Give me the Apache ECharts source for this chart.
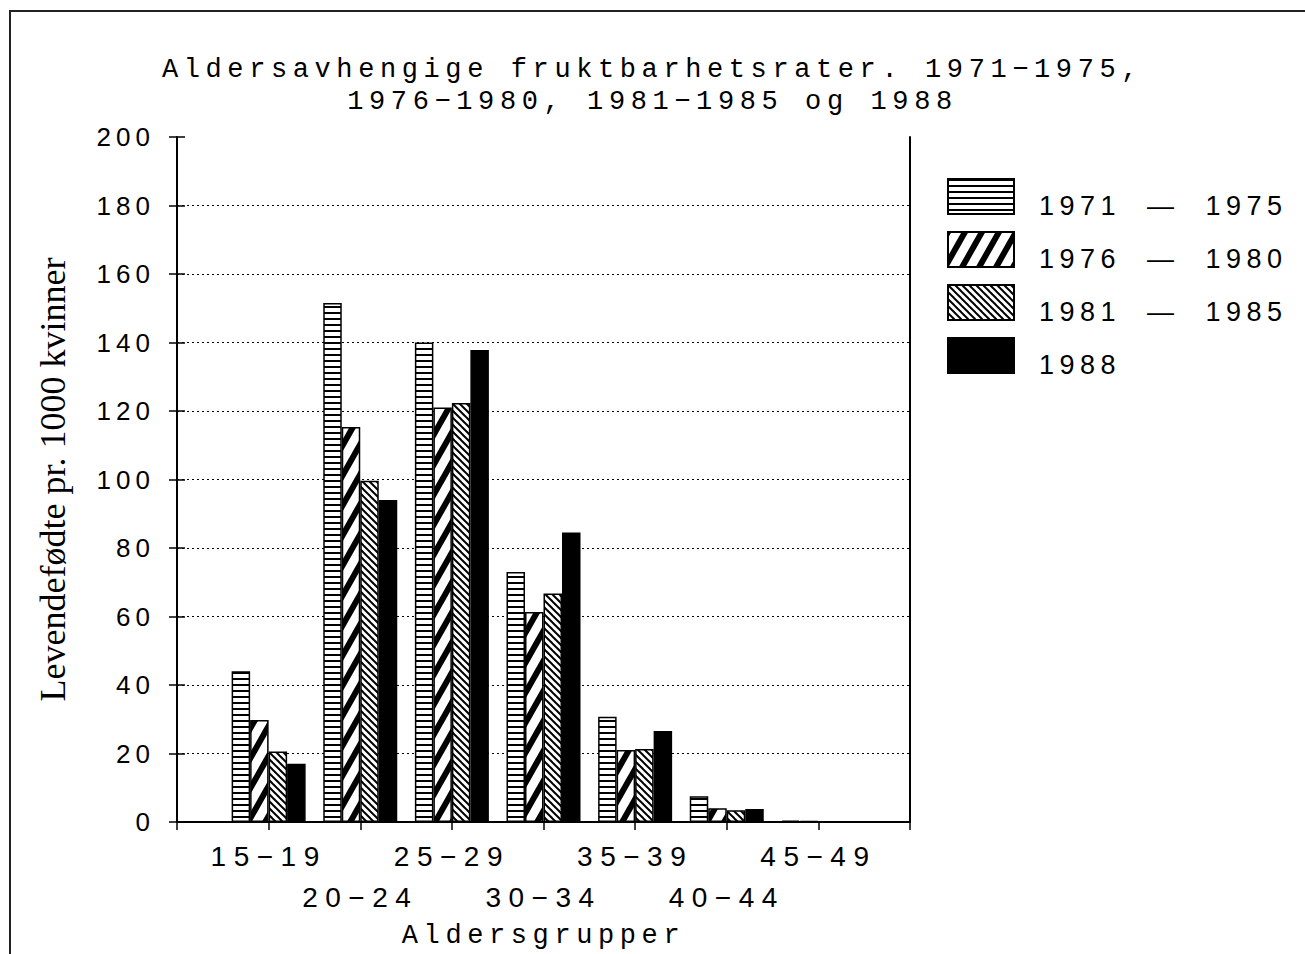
<!DOCTYPE html>
<html style="height: 100%">
<head>
<meta charset="utf-8">
<style>
  body { margin: 0; background: #fff; }
  #frame { position: absolute; left: 9px; top: 10px; width: 1400px; height: 1000px;
           border-left: 2px solid #222; border-top: 2px solid #222; }
  #container { position: absolute; left: 0; top: 0; width: 1305px; height: 954px; }
  #container text { white-space: pre; }
  #container text[style*="26px"] { letter-spacing: 5px; }
  #container text[style*="27px"] { letter-spacing: 5.5px; }
  #container text[style*="28px"] { letter-spacing: 7.5px; }
  #container text[style*="Mono"] { letter-spacing: 5.6px; }
</style>
</head>
<body>
<div id="frame"></div>
<div id="container"></div>
<script src="https://cdn.jsdelivr.net/npm/echarts@6/dist/echarts.min.js"></script>
<script type="text/javascript">
    // aldersgrupper og perioder
    var ageGroups = ['15−19', '20−24', '25−29', '30−34', '35−39', '40−44', '45−49'];
    var periods = ['1971  —  1975', '1976  —  1980', '1981  —  1985', '1988'];
    // levendefødte pr. 1000 kvinner
    var rate7175 = [44, 151.5, 140, 73, 30.7, 7.5, 0.4];
    var rate7680 = [29.8, 115.3, 121, 61.3, 21, 4, 0.3];
    var rate8185 = [20.6, 99.6, 122.3, 66.7, 21.3, 3.4, 0.2];
    var rate1988 = [17, 94, 137.8, 84.5, 26.6, 3.8, 0.2];
    var yMin = 0, yMax = 200, yStep = 20;

    function makePattern(w, h, draw) {
        var c = document.createElement('canvas');
        c.width = w; c.height = h;
        var g = c.getContext('2d');
        g.fillStyle = '#fff';
        g.fillRect(0, 0, w, h);
        g.fillStyle = '#000';
        g.strokeStyle = '#000';
        draw(g, w, h);
        return { image: c, repeat: 'repeat', imageWidth: w, imageHeight: h };
    }
    var horizPattern = makePattern(8, 6, function (g, w, h) {
        g.fillRect(0, 0, w, 2);
    });
    var thickPattern = makePattern(17, 30, function (g, w, h) {
        g.lineWidth = 6;
        for (var k = -1; k <= 1; k++) {
            g.beginPath();
            g.moveTo(k * w - w, 2 * h);
            g.lineTo(k * w + 2 * w, -h);
            g.stroke();
        }
    });
    var thinPattern = makePattern(7, 7, function (g, w, h) {
        g.lineWidth = 2;
        for (var k = -1; k <= 1; k++) {
            g.beginPath();
            g.moveTo(k * w - w, -h);
            g.lineTo(k * w + 2 * w, 2 * h);
            g.stroke();
        }
    });
    var fills = [horizPattern, thickPattern, thinPattern, '#000'];
    var values = [rate7175, rate7680, rate8185, rate1988];

    // tom kategori i hver ende, slik at gruppene ikke står på aksen
    var cats = [''].concat(ageGroups, ['']);
    function pad(arr) { return [null].concat(arr, [null]); }

    var dom = document.getElementById('container');
    var chart = echarts.init(dom, null, { renderer: 'svg' });

    var series = [];
    for (var i = 0; i < periods.length; i++) {
        series.push({
            name: periods[i],
            type: 'bar',
            barWidth: 18.5,
            barGap: '0%',
            data: pad(values[i]),
            itemStyle: { color: fills[i], borderColor: '#000', borderWidth: 1.5 }
        });
    }

    var option = {
        animation: false,
        title: {
            text: 'Aldersavhengige fruktbarhetsrater. 1971−1975,\n1976−1980, 1981−1985 og 1988',
            left: 'center',
            top: 49,
            textStyle: { fontFamily: 'Liberation Mono', fontSize: 27, fontWeight: 'normal',
                         lineHeight: 32, color: '#000' }
        },
        legend: {
            orient: 'vertical',
            left: 947,
            top: 174,
            padding: 0,
            itemWidth: 66,
            itemHeight: 35,
            itemGap: 8,
            icon: 'rect',
            selectedMode: false,
            data: periods,
            // tom første linje skyver teksten litt ned
            formatter: function (name) { return '\n' + name; },
            textStyle: { fontFamily: 'Liberation Sans', fontSize: 27, color: '#000',
                         lineHeight: 18, padding: [0, 0, 0, 20] }
        },
        grid: { left: 177, top: 137, right: 395, bottom: 132, outerBoundsMode: 'none' },
        xAxis: {
            type: 'category',
            data: cats,
            boundaryGap: false,
            name: 'Aldersgrupper',
            nameLocation: 'middle',
            nameGap: 100,
            nameTextStyle: { fontFamily: 'Liberation Mono', fontSize: 27, color: '#000' },
            axisLine: { lineStyle: { color: '#000', width: 2 } },
            axisTick: { length: 8, interval: 0, lineStyle: { color: '#000', width: 1.5 } },
            axisLabel: {
                interval: 0,
                margin: 14,
                color: '#000',
                fontFamily: 'Liberation Sans',
                fontSize: 28,
                lineHeight: 41,
                formatter: function (v, idx) {
                    if (!v) return '';
                    return idx % 2 === 1 ? v : '\n' + v;
                }
            }
        },
        yAxis: [
            {
                type: 'value',
                min: yMin, max: yMax, interval: yStep,
                name: 'Levendefødte pr. 1000 kvinner',
                nameLocation: 'middle',
                nameRotate: 90,
                nameGap: 106,
                nameTextStyle: { fontFamily: 'Liberation Serif', fontSize: 36, color: '#000' },
                axisLine: { show: true, lineStyle: { color: '#000', width: 2 } },
                axisTick: { show: true, length: 8, lineStyle: { color: '#000', width: 1.5 } },
                axisLabel: { margin: 22, color: '#000', fontFamily: 'Liberation Sans', fontSize: 26 },
                splitLine: {
                    show: true, showMinLine: false, showMaxLine: false,
                    lineStyle: { color: '#000', type: [2, 3], width: 1.2 }
                }
            },
            {
                // ticks innover
                type: 'value', position: 'left',
                min: yMin, max: yMax, interval: yStep,
                axisLine: { show: false },
                axisTick: { show: true, inside: true, length: 8, lineStyle: { color: '#000', width: 1.5 } },
                axisLabel: { show: false },
                splitLine: { show: false }
            },
            {
                type: 'value', position: 'right',
                min: yMin, max: yMax, interval: yStep,
                axisLine: { show: true, lineStyle: { color: '#000', width: 2 } },
                axisTick: { show: false },
                axisLabel: { show: false },
                splitLine: { show: false }
            }
        ],
        series: series
    };
    chart.setOption(option);
</script>
</body>
</html>
